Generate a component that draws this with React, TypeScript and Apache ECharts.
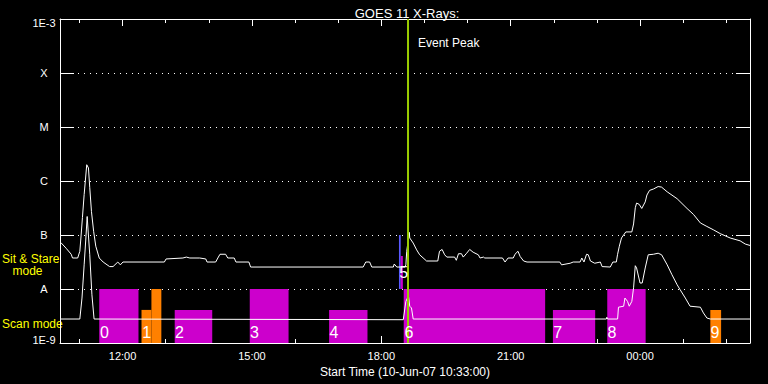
import React, { useEffect, useRef } from 'react';
import * as echarts from 'echarts';

// ---- axis ticks ----
const majorHours = [12, 15, 18, 21, 24];
const minorHours = [11, 12, 13, 14, 15, 16, 17, 18, 19, 20, 21, 22, 23, 24, 25, 26];
const levelExps = [-9, -8, -7, -6, -5, -4, -3];
const levelNames = ['1E-9', 'A', 'B', 'C', 'M', 'X', '1E-3'];
const startHour = 10.55; // 10:33
const endHour = 26.55; // 02:33 next day

// ---- GOES 1-8 A channel [hour, W/m^2] ----
const longChannel: [number, number][] = [
  [10.55, 7.2e-8], [10.58, 7.1e-8], [10.69, 5.7e-8], [10.81, 4.4e-8], [10.84, 3.75e-8],
  [10.96, 3.75e-8], [11.01, 5.0e-8], [11.04, 1.0e-7], [11.07, 2.1e-7], [11.11, 5.6e-7],
  [11.17, 2.0e-6], [11.21, 1.74e-6], [11.24, 7.5e-7], [11.28, 2.7e-7], [11.33, 1.17e-7],
  [11.38, 6.2e-8], [11.46, 3.75e-8], [11.55, 3.16e-8], [11.70, 2.6e-8], [11.78, 2.6e-8],
  [11.89, 3.16e-8], [11.95, 2.8e-8], [12.01, 3.16e-8], [12.97, 3.16e-8], [13.01, 3.6e-8],
  [13.40, 3.75e-8], [13.48, 3.9e-8], [13.56, 3.75e-8], [13.79, 3.75e-8], [13.93, 3.6e-8],
  [13.96, 3.16e-8], [14.16, 3.16e-8], [14.21, 3.75e-8], [14.26, 4.4e-8], [14.39, 4.4e-8],
  [14.44, 3.75e-8], [14.59, 3.75e-8], [14.63, 3.16e-8], [14.93, 3.16e-8], [14.97, 2.55e-8],
  [17.58, 2.55e-8], [17.64, 3.16e-8], [17.73, 3.16e-8], [17.78, 2.55e-8], [18.28, 2.55e-8],
  [18.30, 2.9e-8], [18.36, 2.55e-8], [18.55, 2.55e-8], [18.57, 2.8e-8], [18.59, 5.0e-8],
  [18.65, 1.12e-7], [18.66, 8.8e-8], [18.74, 7.1e-8], [18.82, 5.3e-8], [18.89, 4.3e-8],
  [19.05, 3.3e-8], [19.31, 3.3e-8], [19.35, 5.0e-8], [19.41, 5.4e-8], [19.47, 4.3e-8],
  [19.52, 3.9e-8], [19.70, 3.9e-8], [19.74, 3.4e-8], [19.79, 4.5e-8], [19.86, 4.5e-8],
  [19.90, 3.9e-8], [19.98, 4.6e-8], [20.05, 5.4e-8], [20.13, 4.8e-8], [20.25, 4.3e-8],
  [20.29, 3.75e-8], [20.37, 3.9e-8], [20.40, 3.75e-8], [20.81, 3.75e-8], [20.87, 3.16e-8],
  [20.94, 3.75e-8], [21.06, 3.75e-8], [21.10, 4.4e-8], [21.17, 5.0e-8], [21.22, 4.0e-8],
  [21.30, 3.3e-8], [21.38, 3.16e-8], [22.14, 3.16e-8], [22.18, 2.8e-8], [22.38, 3.0e-8],
  [22.45, 3.16e-8], [22.61, 3.16e-8], [22.65, 3.75e-8], [22.70, 3.16e-8], [22.76, 4.4e-8],
  [22.80, 4.3e-8], [22.85, 3.3e-8], [22.95, 3.0e-8], [23.08, 3.16e-8], [23.12, 2.6e-8],
  [23.31, 2.55e-8], [23.37, 3.16e-8], [23.45, 3.16e-8], [23.48, 4.4e-8], [23.52, 6.2e-8],
  [23.57, 8.8e-8], [23.67, 1.14e-7], [23.81, 1.14e-7], [23.85, 1.6e-7], [23.89, 3.2e-7],
  [23.92, 3.9e-7], [23.98, 3.7e-7], [24.04, 3.1e-7], [24.12, 4.1e-7], [24.16, 5.5e-7],
  [24.22, 6.7e-7], [24.31, 7.1e-7], [24.42, 7.9e-7], [24.50, 7.7e-7], [24.63, 6.3e-7],
  [24.86, 4.7e-7], [25.09, 3.1e-7], [25.24, 2.4e-7], [25.40, 1.67e-7], [25.55, 1.44e-7],
  [25.70, 1.25e-7], [25.86, 1.06e-7], [26.09, 8.8e-8], [26.32, 7.8e-8], [26.44, 6.8e-8],
  [26.55, 6.4e-8],
];

// ---- GOES 0.5-4 A channel [hour, W/m^2] ----
const shortChannel: [number, number][] = [
  [10.55, 2.78e-9], [11.01, 2.78e-9], [11.06, 6.8e-9], [11.11, 2.8e-8], [11.15, 8.8e-8],
  [11.18, 2.2e-7], [11.24, 4.3e-8], [11.29, 7.8e-9], [11.34, 2.78e-9], [18.51, 2.7e-9],
  [18.57, 5.9e-9], [18.63, 7.4e-9], [18.66, 4.8e-9], [18.70, 4.45e-9], [18.74, 2.78e-9],
  [23.22, 2.78e-9], [23.23, 3.0e-9], [23.25, 2.78e-9], [23.48, 2.78e-9], [23.50, 4.6e-9],
  [23.62, 4.8e-9], [23.65, 6.8e-9], [23.71, 5.9e-9], [23.75, 4.8e-9], [23.81, 5.9e-9],
  [23.85, 1.05e-8], [23.89, 2.7e-8], [23.92, 2.45e-8], [24.00, 1.29e-8], [24.05, 1.29e-8],
  [24.12, 2.45e-8], [24.19, 4.3e-8], [24.31, 4.4e-8], [24.42, 4.6e-8], [24.50, 4.3e-8],
  [24.63, 2.8e-8], [24.74, 1.84e-8], [24.86, 1.2e-8], [24.93, 9.7e-9], [25.05, 6.8e-9],
  [25.16, 4.8e-9], [25.40, 4.6e-9], [25.47, 3.6e-9], [25.55, 2.9e-9], [25.63, 2.78e-9],
  [26.55, 2.78e-9],
];

// ---- observing mode segments ----
const segStart = [11.46, 12.44, 12.67, 13.21, 14.95, 16.79, 18.41, 18.45, 18.52, 21.98, 23.24, 25.63];
const segEnd = [12.37, 12.67, 12.90, 14.08, 15.85, 17.68, 18.45, 18.50, 21.80, 22.96, 24.13, 25.88];
const segLow = [1e-9, 1e-9, 1e-9, 1e-9, 1e-9, 1e-9, 1e-8, 1e-8, 1e-9, 1e-9, 1e-9, 1e-9];
const segHigh = [1e-8, 4.1e-9, 1e-8, 4.1e-9, 1e-8, 4.1e-9, 1e-7, 4.1e-8, 1e-8, 4.1e-9, 1e-8, 4.1e-9];
const segKind = [0, 1, 1, 0, 0, 0, 2, 0, 0, 0, 0, 1]; // 0 magenta, 1 orange, 2 blue

// ---- segment number labels ----
const labelText = ['0', '1', '2', '3', '4', '5', '6', '7', '8', '9'];
const labelTime = [11.58, 12.56, 13.32, 15.06, 16.90, 18.52, 18.64, 22.09, 23.35, 25.74];
const labelFlux = [1.55e-9, 1.55e-9, 1.55e-9, 1.55e-9, 1.55e-9, 2.05e-8, 1.55e-9, 1.55e-9, 1.55e-9, 1.55e-9];

const eventPeak = 18.62; // 18:37

const FONT = '"Liberation Sans", Arial, sans-serif';
const kindColors = ['#cc00cc', '#ff8000', '#5a5aff'];

function fmtHour(v: number) {
  const h = Math.round(v) % 24;
  return `${String(h).padStart(2, '0')}:00`;
}

export default function App() {
  const ref = useRef<HTMLDivElement>(null);
  useEffect(() => {
    if (!ref.current) return;
    const chart = echarts.init(ref.current, undefined, { renderer: 'svg' });
    const baseX = {
      type: 'value',
      min: startHour,
      max: endHour,
      splitLine: { show: false },
      axisLabel: { show: false },
      axisLine: { show: false },
    };
    const option: any = {
      animation: false,
      backgroundColor: '#000',
      title: {
        text: 'GOES 11 X-Rays:',
        left: 402,
        top: 2,
        textAlign: 'center',
        textStyle: { color: '#fff', fontSize: 13, fontWeight: 'normal', fontFamily: FONT },
      },
      grid: { left: 60, right: 18, top: 19, bottom: 41, containLabel: false },
      xAxis: [
        {
          ...baseX,
          position: 'bottom',
          axisLine: { show: true, onZero: false, lineStyle: { color: '#fff', width: 1 } },
          axisTick: { show: true, inside: true, length: 7, customValues: majorHours, lineStyle: { color: '#fff' } },
          axisLabel: {
            show: true,
            customValues: majorHours,
            formatter: fmtHour,
            color: '#fff',
            fontSize: 11,
            fontFamily: FONT,
            margin: 7,
          },
          name: 'Start Time (10-Jun-07 10:33:00)',
          nameLocation: 'middle',
          nameGap: 18,
          nameTextStyle: { color: '#fff', fontSize: 12, fontFamily: FONT, verticalAlign: 'top' },
        },
        {
          ...baseX,
          position: 'bottom',
          axisTick: { show: true, inside: true, length: 4, customValues: minorHours, lineStyle: { color: '#fff' } },
        },
        {
          ...baseX,
          position: 'top',
          axisLine: { show: true, onZero: false, lineStyle: { color: '#fff', width: 1 } },
          axisTick: { show: true, inside: true, length: 7, customValues: majorHours, lineStyle: { color: '#fff' } },
        },
        {
          ...baseX,
          position: 'top',
          axisTick: { show: true, inside: true, length: 4, customValues: minorHours, lineStyle: { color: '#fff' } },
        },
      ],
      yAxis: [
        {
          type: 'value',
          position: 'left',
          min: levelExps[0],
          max: levelExps[levelExps.length - 1],
          interval: 1,
          axisLine: { show: true, onZero: false, lineStyle: { color: '#fff', width: 1 } },
          axisTick: { show: true, inside: true, length: 14, lineStyle: { color: '#fff' } },
          splitLine: { show: true, lineStyle: { color: '#fff', width: 1, type: [1, 5] } },
          axisLabel: {
            show: true,
            align: 'center',
            margin: 16,
            color: '#fff',
            fontSize: 11,
            fontFamily: FONT,
            formatter: (v: number) => {
              const i = levelExps.indexOf(Math.round(v));
              const name = i >= 0 ? levelNames[i] : '';
              if (i === 0) return `{bot|${name}}`;
              if (i === levelExps.length - 1) return `{top|${name}}`;
              return `{mid|${name}}`;
            },
            rich: {
              bot: { color: '#fff', fontSize: 11, fontFamily: FONT, padding: [0, 0, 7, 0] },
              top: { color: '#fff', fontSize: 11, fontFamily: FONT, padding: [7, 0, 0, 0] },
              mid: { color: '#fff', fontSize: 11, fontFamily: FONT },
            },
          },
        },
        {
          type: 'value',
          position: 'right',
          min: levelExps[0],
          max: levelExps[levelExps.length - 1],
          interval: 1,
          axisLine: { show: true, onZero: false, lineStyle: { color: '#fff', width: 1 } },
          axisTick: { show: true, inside: true, length: 14, lineStyle: { color: '#fff' } },
          splitLine: { show: false },
          axisLabel: { show: false },
        },
      ],
      graphic: [
        { type: 'text', x: 2, y: 258.5, style: { text: 'Sit & Stare', fill: '#ffff00', font: `12px ${FONT}`, verticalAlign: 'middle', textVerticalAlign: 'middle' } },
        { type: 'text', x: 12.5, y: 271, style: { text: 'mode', fill: '#ffff00', font: `12px ${FONT}`, verticalAlign: 'middle', textVerticalAlign: 'middle' } },
        { type: 'text', x: 2, y: 323.5, style: { text: 'Scan mode', fill: '#ffff00', font: `12px ${FONT}`, verticalAlign: 'middle', textVerticalAlign: 'middle' } },
      ],
      series: [
        {
          type: 'custom',
          name: 'modes',
          xAxisIndex: 0,
          yAxisIndex: 0,
          z: 1,
          silent: true,
          encode: { x: [0, 1], y: [2, 3] },
          data: segStart.map((s, i) => [s, segEnd[i], Math.log10(segLow[i]), Math.log10(segHigh[i]), segKind[i]]),
          renderItem: (_p: any, api: any) => {
            const a = api.coord([api.value(0), api.value(3)]);
            const b = api.coord([api.value(1), api.value(2)]);
            return {
              type: 'rect',
              shape: { x: a[0], y: a[1], width: b[0] - a[0], height: b[1] - a[1] },
              style: { fill: kindColors[api.value(4) as number] },
            };
          },
        },
        {
          type: 'line',
          name: 'GOES 1-8 A',
          xAxisIndex: 0,
          yAxisIndex: 0,
          z: 3,
          silent: true,
          showSymbol: false,
          symbol: 'none',
          data: longChannel.map(([t, f]) => [t, Math.log10(f)]),
          lineStyle: { color: '#fff', width: 1 },
        },
        {
          type: 'line',
          name: 'GOES 0.5-4 A',
          xAxisIndex: 0,
          yAxisIndex: 0,
          z: 3,
          silent: true,
          showSymbol: false,
          symbol: 'none',
          data: shortChannel.map(([t, f]) => [t, Math.log10(f)]),
          lineStyle: { color: '#fff', width: 1 },
        },
        {
          type: 'custom',
          name: 'event',
          xAxisIndex: 0,
          yAxisIndex: 0,
          z: 4,
          silent: true,
          encode: { x: 0 },
          data: [[eventPeak]],
          renderItem: (_p: any, api: any) => {
            const top = api.coord([api.value(0), levelExps[levelExps.length - 1]]);
            const bot = api.coord([api.value(0), levelExps[0]]);
            return {
              type: 'group',
              children: [
                { type: 'line', shape: { x1: top[0], y1: top[1], x2: bot[0], y2: bot[1] }, style: { stroke: '#9acd00', lineWidth: 2 } },
                {
                  type: 'text',
                  x: top[0] + 10,
                  y: top[1] + 24,
                  style: { text: 'Event Peak', fill: '#fff', font: `12px ${FONT}`, verticalAlign: 'middle', textVerticalAlign: 'middle' },
                },
              ],
            };
          },
        },
        {
          type: 'custom',
          name: 'labels',
          xAxisIndex: 0,
          yAxisIndex: 0,
          z: 5,
          silent: true,
          encode: { x: 0, y: 1 },
          data: labelText.map((_t, i) => [labelTime[i], Math.log10(labelFlux[i]), i]),
          renderItem: (_p: any, api: any) => {
            const p = api.coord([api.value(0), api.value(1)]);
            return {
              type: 'text',
              x: p[0],
              y: p[1],
              style: {
                text: labelText[api.value(2) as number],
                fill: '#fff',
                font: `16px ${FONT}`,
                align: 'center',
                textAlign: 'center',
                verticalAlign: 'middle',
                textVerticalAlign: 'middle',
              },
            };
          },
        },
      ],
    };
    chart.setOption(option);
    return () => chart.dispose();
  }, []);
  return (
    <div
      ref={ref}
      style={{ position: 'absolute', left: 0, top: 0, width: 768, height: 384, background: '#000' }}
    />
  );
}
